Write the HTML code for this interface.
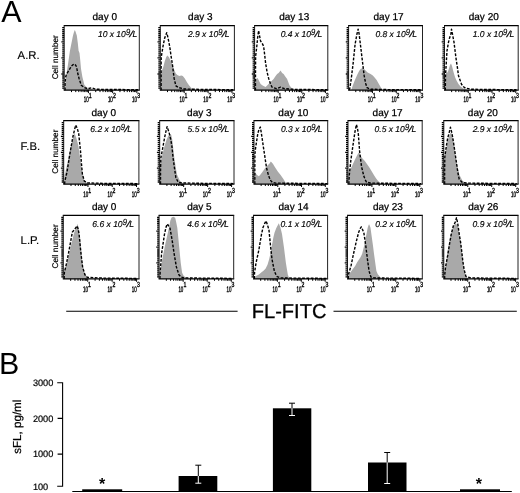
<!DOCTYPE html>
<html lang="en"><head><meta charset="utf-8"><title>FL-FITC figure</title>
<style>html,body{margin:0;padding:0;background:#fff}body{width:520px;height:493px;overflow:hidden}svg{display:block}text{font-family:"Liberation Sans",sans-serif;fill:#000;text-rendering:geometricPrecision}.day{font-size:10px;text-anchor:middle;stroke:#000;stroke-width:0.25px}.row{font-size:11.3px;stroke:#000;stroke-width:0.15px}.cn{font-size:8.2px;text-anchor:middle;stroke:#000;stroke-width:0.2px}.ann{font-size:8.5px;font-style:italic;text-anchor:end;stroke:#000;stroke-width:0.15px}.sup{font-size:9px;font-style:italic;stroke:#000;stroke-width:0.15px}.pl{font-size:8.6px;font-style:italic;text-anchor:end;stroke:#000;stroke-width:0.15px}.tk{font-size:8px;stroke:#000;stroke-width:0.4px}.yl{font-size:9.2px;text-anchor:start;stroke:#000;stroke-width:0.2px}</style></head><body>
<svg width="520" height="493" viewBox="0 0 520 493">
<rect width="520" height="493" fill="#fff"/>
<text x="1.3" y="22.4" style="font-size:30.4px">A</text>
<text x="-1.1" y="373.7" style="font-size:30.4px">B</text>
<text class="row" x="17.6" y="58.8">A.R.</text>
<text class="cn" transform="translate(58.2 57.3) rotate(-90)">Cell number</text>
<path d="M65 90.1 L65 90.1 L65.5 82.1 L66.1 77.1 L67.3 69.1 L68.5 60.7 L69.9 51.1 L71.5 43.1 L73 35.6 L74 32.1 L74.8 30.1 L75.5 31.6 L76.8 35.6 L77.8 43.1 L78.6 50.8 L79.5 53.1 L80.3 60.7 L81 68.8 L82.4 76.9 L84.4 85.1 L87.6 88.3 L93.2 89.6 L93.2 90.1 Z" fill="#a9a9a9"/>
<path d="M65 90.2 L65.1 82.2 L65.6 77.2 L66.5 74.2 L69.8 68.9 L71.4 66.1 L73 64.7 L74.5 64 L75.7 65.2 L76.7 67.3 L77.5 72.2 L79.1 78.7 L81.3 85.2 L84.4 87.6 L87.7 88.7 L91.7 87.7 L95.7 89.2 L104.2 89.4 L138.2 89.7" fill="none" stroke="#000" stroke-width="1.4" stroke-dasharray="2.8 1.5" stroke-linejoin="round"/>
<path d="M63.7 25.7H139.8M63.7 90.1H139.8" fill="none" stroke="#000" stroke-width="1.25"/>
<path d="M64.2 25.7V90.1M139.3 25.7V90.1" fill="none" stroke="#222" stroke-width="1"/>
<path d="M64.2 88.09h-2.0 M64.2 86.07h-2.0 M64.2 84.06h-2.0 M64.2 82.05h-2.0 M64.2 80.04h-2.0 M64.2 78.02h-2.0 M64.2 76.01h-2.0 M64.2 74h-2.8 M64.2 71.99h-2.0 M64.2 69.97h-2.0 M64.2 67.96h-2.0 M64.2 65.95h-2.0 M64.2 63.94h-2.0 M64.2 61.92h-2.0 M64.2 59.91h-2.0 M64.2 57.9h-2.8 M64.2 55.89h-2.0 M64.2 53.88h-2.0 M64.2 51.86h-2.0 M64.2 49.85h-2.0 M64.2 47.84h-2.0 M64.2 45.83h-2.0 M64.2 43.81h-2.0 M64.2 41.8h-2.8 M64.2 39.79h-2.0 M64.2 37.77h-2.0 M64.2 35.76h-2.0 M64.2 33.75h-2.0 M64.2 31.74h-2.0 M64.2 29.73h-2.0 M64.2 27.71h-2.0" stroke="#000" stroke-width="1.3" fill="none"/>
<path d="M71.49 90.1v2.0 M75.76 90.1v2.0 M78.79 90.1v2.0 M81.14 90.1v2.0 M83.06 90.1v2.0 M84.68 90.1v2.0 M86.08 90.1v2.0 M87.32 90.1v2.0 M88.43 90.1v3.0 M95.73 90.1v2.0 M100 90.1v2.0 M103.02 90.1v2.0 M105.37 90.1v2.0 M107.29 90.1v2.0 M108.91 90.1v2.0 M110.32 90.1v2.0 M111.56 90.1v2.0 M112.67 90.1v3.0 M119.96 90.1v2.0 M124.23 90.1v2.0 M127.26 90.1v2.0 M129.61 90.1v2.0 M131.52 90.1v2.0 M133.15 90.1v2.0 M134.55 90.1v2.0 M135.79 90.1v2.0 M136.9 90.1v3.0" stroke="#000" stroke-width="1.0" fill="none"/>
<text class="tk" transform="translate(88.63 102) scale(0.56 1)" style="text-anchor:end">10</text>
<text class="tk" transform="translate(88.73 97.8) scale(0.7 1)" style="text-anchor:start;font-size:7.4px">1</text>
<text class="tk" transform="translate(112.87 102) scale(0.56 1)" style="text-anchor:end">10</text>
<text class="tk" transform="translate(112.97 97.8) scale(0.7 1)" style="text-anchor:start;font-size:7.4px">2</text>
<text class="tk" transform="translate(137.1 102) scale(0.56 1)" style="text-anchor:end">10</text>
<text class="tk" transform="translate(137.2 97.8) scale(0.7 1)" style="text-anchor:start;font-size:7.4px">3</text>
<text class="day" x="104.75" y="19.8">day 0</text>
<text class="ann" x="125.8" y="37">10 x 10</text>
<text class="sup" transform="translate(125.9 35.3) scale(0.85 1)">9</text>
<text class="sup" transform="translate(129.6 37.3) scale(1.35 1)">/</text>
<text class="pl" x="137.2" y="37">L</text>
<path d="M160.6 90.1 L160.6 90.1 L160.9 73.1 L161.8 71.1 L163.3 67.1 L164.8 61.1 L166.3 57.1 L167.3 55.5 L168.8 57.1 L170.3 60.1 L172.3 64.1 L174.3 70.1 L175.8 73.6 L177.3 75.1 L179.3 75.9 L181.3 75.5 L182.8 76.1 L184.8 78.6 L186.8 82.1 L188.8 85.1 L191.3 88.1 L194.3 89.8 L194.3 90.1 Z" fill="#a9a9a9"/>
<path d="M161.1 90.2 L161.1 70.2 L161.2 57.3 L162.9 46.9 L164.6 38.3 L165.9 34.7 L166.7 32.7 L167.4 35.2 L168.1 38.3 L169.8 46.9 L171 55.6 L172.4 64.2 L174.1 78.2 L175.9 85.9 L178.5 87.6 L184.3 89 L200.3 89.4 L233.3 89.7" fill="none" stroke="#000" stroke-width="1.4" stroke-dasharray="2.8 1.5" stroke-linejoin="round"/>
<path d="M159.8 25.7H234.9M159.8 90.1H234.9" fill="none" stroke="#000" stroke-width="1.25"/>
<path d="M160.3 25.7V90.1M234.4 25.7V90.1" fill="none" stroke="#222" stroke-width="1"/>
<path d="M160.3 88.09h-2.0 M160.3 86.07h-2.0 M160.3 84.06h-2.0 M160.3 82.05h-2.0 M160.3 80.04h-2.0 M160.3 78.02h-2.0 M160.3 76.01h-2.0 M160.3 74h-2.8 M160.3 71.99h-2.0 M160.3 69.97h-2.0 M160.3 67.96h-2.0 M160.3 65.95h-2.0 M160.3 63.94h-2.0 M160.3 61.92h-2.0 M160.3 59.91h-2.0 M160.3 57.9h-2.8 M160.3 55.89h-2.0 M160.3 53.88h-2.0 M160.3 51.86h-2.0 M160.3 49.85h-2.0 M160.3 47.84h-2.0 M160.3 45.83h-2.0 M160.3 43.81h-2.0 M160.3 41.8h-2.8 M160.3 39.79h-2.0 M160.3 37.77h-2.0 M160.3 35.76h-2.0 M160.3 33.75h-2.0 M160.3 31.74h-2.0 M160.3 29.73h-2.0 M160.3 27.71h-2.0" stroke="#000" stroke-width="1.3" fill="none"/>
<path d="M167.49 90.1v2.0 M171.7 90.1v2.0 M174.69 90.1v2.0 M177.01 90.1v2.0 M178.9 90.1v2.0 M180.5 90.1v2.0 M181.88 90.1v2.0 M183.11 90.1v2.0 M184.2 90.1v3.0 M191.39 90.1v2.0 M195.6 90.1v2.0 M198.59 90.1v2.0 M200.91 90.1v2.0 M202.8 90.1v2.0 M204.4 90.1v2.0 M205.78 90.1v2.0 M207.01 90.1v2.0 M208.1 90.1v3.0 M215.29 90.1v2.0 M219.5 90.1v2.0 M222.49 90.1v2.0 M224.81 90.1v2.0 M226.7 90.1v2.0 M228.3 90.1v2.0 M229.68 90.1v2.0 M230.91 90.1v2.0 M232 90.1v3.0" stroke="#000" stroke-width="1.0" fill="none"/>
<text class="tk" transform="translate(184.4 102) scale(0.56 1)" style="text-anchor:end">10</text>
<text class="tk" transform="translate(184.5 97.8) scale(0.7 1)" style="text-anchor:start;font-size:7.4px">1</text>
<text class="tk" transform="translate(208.3 102) scale(0.56 1)" style="text-anchor:end">10</text>
<text class="tk" transform="translate(208.4 97.8) scale(0.7 1)" style="text-anchor:start;font-size:7.4px">2</text>
<text class="tk" transform="translate(232.2 102) scale(0.56 1)" style="text-anchor:end">10</text>
<text class="tk" transform="translate(232.3 97.8) scale(0.7 1)" style="text-anchor:start;font-size:7.4px">3</text>
<text class="day" x="200.35" y="19.8">day 3</text>
<text class="ann" x="218.2" y="37">2.9 x 10</text>
<text class="sup" transform="translate(218.3 35.3) scale(0.85 1)">9</text>
<text class="sup" transform="translate(222 37.3) scale(1.35 1)">/</text>
<text class="pl" x="229.6" y="37">L</text>
<path d="M254.6 90.1 L254.6 82.1 L256.1 79.1 L257.6 78.1 L259.1 81.1 L260.6 84.1 L262.6 85.6 L265.6 87.1 L267.6 85.1 L269.6 83.1 L271.6 81.1 L273.6 79.1 L275.6 76.1 L277.1 74.1 L278.6 73.1 L280.6 70.6 L282.1 73.1 L283.6 74.1 L285.6 77.1 L287.1 79.1 L288.6 83.1 L289.6 85.6 L291.6 88.1 L293.6 89.4 L293.6 90.1 Z" fill="#a9a9a9"/>
<path d="M255.4 90.2 L255.6 56.2 L256.6 48.2 L257.6 38.2 L258.6 30.7 L259.6 36.2 L260.6 41.2 L262.1 43.2 L263.6 46.2 L264.6 54.2 L265.6 63.2 L267.1 72.2 L268.6 78.2 L270.6 84.2 L272.1 87.2 L276.6 88.7 L280.6 87.2 L284.6 88.7 L294.6 89.4 L328.6 89.7" fill="none" stroke="#000" stroke-width="1.4" stroke-dasharray="2.8 1.5" stroke-linejoin="round"/>
<path d="M254.1 25.7H328.3M254.1 90.1H328.3" fill="none" stroke="#000" stroke-width="1.25"/>
<path d="M254.6 25.7V90.1M327.8 25.7V90.1" fill="none" stroke="#222" stroke-width="1"/>
<path d="M254.6 88.09h-2.0 M254.6 86.07h-2.0 M254.6 84.06h-2.0 M254.6 82.05h-2.0 M254.6 80.04h-2.0 M254.6 78.02h-2.0 M254.6 76.01h-2.0 M254.6 74h-2.8 M254.6 71.99h-2.0 M254.6 69.97h-2.0 M254.6 67.96h-2.0 M254.6 65.95h-2.0 M254.6 63.94h-2.0 M254.6 61.92h-2.0 M254.6 59.91h-2.0 M254.6 57.9h-2.8 M254.6 55.89h-2.0 M254.6 53.88h-2.0 M254.6 51.86h-2.0 M254.6 49.85h-2.0 M254.6 47.84h-2.0 M254.6 45.83h-2.0 M254.6 43.81h-2.0 M254.6 41.8h-2.8 M254.6 39.79h-2.0 M254.6 37.77h-2.0 M254.6 35.76h-2.0 M254.6 33.75h-2.0 M254.6 31.74h-2.0 M254.6 29.73h-2.0 M254.6 27.71h-2.0" stroke="#000" stroke-width="1.3" fill="none"/>
<path d="M261.7 90.1v2.0 M265.86 90.1v2.0 M268.81 90.1v2.0 M271.1 90.1v2.0 M272.96 90.1v2.0 M274.54 90.1v2.0 M275.91 90.1v2.0 M277.12 90.1v2.0 M278.2 90.1v3.0 M285.3 90.1v2.0 M289.46 90.1v2.0 M292.41 90.1v2.0 M294.7 90.1v2.0 M296.56 90.1v2.0 M298.14 90.1v2.0 M299.51 90.1v2.0 M300.72 90.1v2.0 M301.8 90.1v3.0 M308.9 90.1v2.0 M313.06 90.1v2.0 M316.01 90.1v2.0 M318.3 90.1v2.0 M320.16 90.1v2.0 M321.74 90.1v2.0 M323.11 90.1v2.0 M324.32 90.1v2.0 M325.4 90.1v3.0" stroke="#000" stroke-width="1.0" fill="none"/>
<text class="tk" transform="translate(278.4 102) scale(0.56 1)" style="text-anchor:end">10</text>
<text class="tk" transform="translate(278.5 97.8) scale(0.7 1)" style="text-anchor:start;font-size:7.4px">1</text>
<text class="tk" transform="translate(302 102) scale(0.56 1)" style="text-anchor:end">10</text>
<text class="tk" transform="translate(302.1 97.8) scale(0.7 1)" style="text-anchor:start;font-size:7.4px">2</text>
<text class="tk" transform="translate(325.6 102) scale(0.56 1)" style="text-anchor:end">10</text>
<text class="tk" transform="translate(325.7 97.8) scale(0.7 1)" style="text-anchor:start;font-size:7.4px">3</text>
<text class="day" x="294.2" y="19.8">day 13</text>
<text class="ann" x="310.9" y="37">0.4 x 10</text>
<text class="sup" transform="translate(311 35.3) scale(0.85 1)">9</text>
<text class="sup" transform="translate(314.7 37.3) scale(1.35 1)">/</text>
<text class="pl" x="322.3" y="37">L</text>
<path d="M351.3 90.1 L351.3 90.1 L352.6 86.1 L354.1 82.1 L355.8 78.1 L357.6 74.1 L359.1 71.1 L360.6 69.1 L362.1 68.3 L363.6 68.5 L365.6 70.6 L367.6 72.6 L370.6 74.1 L372.8 75.4 L374.6 77.6 L376.6 80.1 L378.6 83.6 L380.6 87.1 L382.1 89.8 L382.1 90.1 Z" fill="#a9a9a9"/>
<path d="M349.4 90.2 L350 87.2 L351.2 79.2 L353.1 63.6 L355.1 44.2 L356.8 34.7 L358.1 29.2 L359 33.2 L359.9 40.2 L361.1 50.2 L362.3 60.2 L364.1 75.2 L365.6 83.2 L367 87.7 L370.6 89.2 L388.6 89.6 L422.6 89.7" fill="none" stroke="#000" stroke-width="1.4" stroke-dasharray="2.8 1.5" stroke-linejoin="round"/>
<path d="M348.1 25.7H423M348.1 90.1H423" fill="none" stroke="#000" stroke-width="1.25"/>
<path d="M348.6 25.7V90.1M422.5 25.7V90.1" fill="none" stroke="#222" stroke-width="1"/>
<path d="M348.6 88.09h-2.0 M348.6 86.07h-2.0 M348.6 84.06h-2.0 M348.6 82.05h-2.0 M348.6 80.04h-2.0 M348.6 78.02h-2.0 M348.6 76.01h-2.0 M348.6 74h-2.8 M348.6 71.99h-2.0 M348.6 69.97h-2.0 M348.6 67.96h-2.0 M348.6 65.95h-2.0 M348.6 63.94h-2.0 M348.6 61.92h-2.0 M348.6 59.91h-2.0 M348.6 57.9h-2.8 M348.6 55.89h-2.0 M348.6 53.88h-2.0 M348.6 51.86h-2.0 M348.6 49.85h-2.0 M348.6 47.84h-2.0 M348.6 45.83h-2.0 M348.6 43.81h-2.0 M348.6 41.8h-2.8 M348.6 39.79h-2.0 M348.6 37.77h-2.0 M348.6 35.76h-2.0 M348.6 33.75h-2.0 M348.6 31.74h-2.0 M348.6 29.73h-2.0 M348.6 27.71h-2.0" stroke="#000" stroke-width="1.3" fill="none"/>
<path d="M355.77 90.1v2.0 M359.97 90.1v2.0 M362.95 90.1v2.0 M365.26 90.1v2.0 M367.15 90.1v2.0 M368.74 90.1v2.0 M370.12 90.1v2.0 M371.34 90.1v2.0 M372.43 90.1v3.0 M379.61 90.1v2.0 M383.8 90.1v2.0 M386.78 90.1v2.0 M389.09 90.1v2.0 M390.98 90.1v2.0 M392.57 90.1v2.0 M393.96 90.1v2.0 M395.18 90.1v2.0 M396.27 90.1v3.0 M403.44 90.1v2.0 M407.64 90.1v2.0 M410.62 90.1v2.0 M412.93 90.1v2.0 M414.81 90.1v2.0 M416.41 90.1v2.0 M417.79 90.1v2.0 M419.01 90.1v2.0 M420.1 90.1v3.0" stroke="#000" stroke-width="1.0" fill="none"/>
<text class="tk" transform="translate(372.63 102) scale(0.56 1)" style="text-anchor:end">10</text>
<text class="tk" transform="translate(372.73 97.8) scale(0.7 1)" style="text-anchor:start;font-size:7.4px">1</text>
<text class="tk" transform="translate(396.47 102) scale(0.56 1)" style="text-anchor:end">10</text>
<text class="tk" transform="translate(396.57 97.8) scale(0.7 1)" style="text-anchor:start;font-size:7.4px">2</text>
<text class="tk" transform="translate(420.3 102) scale(0.56 1)" style="text-anchor:end">10</text>
<text class="tk" transform="translate(420.4 97.8) scale(0.7 1)" style="text-anchor:start;font-size:7.4px">3</text>
<text class="day" x="388.55" y="19.8">day 17</text>
<text class="ann" x="405.7" y="37">0.8 x 10</text>
<text class="sup" transform="translate(405.8 35.3) scale(0.85 1)">9</text>
<text class="sup" transform="translate(409.5 37.3) scale(1.35 1)">/</text>
<text class="pl" x="417.1" y="37">L</text>
<path d="M444.9 90.1 L444.9 90.1 L445.3 76.1 L446 73.1 L447.5 72.6 L448.5 70.1 L450 65.1 L451 63.6 L452 66.1 L453.5 72.1 L455 77.1 L456.5 80.6 L458.5 84.1 L460.5 86.6 L463.5 88.6 L467.5 89.8 L467.5 90.1 Z" fill="#a9a9a9"/>
<path d="M445.3 90.2 L445.5 75.7 L447 50.7 L448.5 42.2 L449.5 38.2 L451 33.2 L451.5 29.2 L452.3 33.2 L454 42.2 L456 58.2 L457.5 68.2 L458.5 75.7 L461.5 84.2 L463.5 86.7 L465.5 88.2 L471.5 89.2 L484.5 89.5 L516.5 89.7" fill="none" stroke="#000" stroke-width="1.4" stroke-dasharray="2.8 1.5" stroke-linejoin="round"/>
<path d="M444 25.7H518.7M444 90.1H518.7" fill="none" stroke="#000" stroke-width="1.25"/>
<path d="M444.5 25.7V90.1M518.2 25.7V90.1" fill="none" stroke="#222" stroke-width="1"/>
<path d="M444.5 88.09h-2.0 M444.5 86.07h-2.0 M444.5 84.06h-2.0 M444.5 82.05h-2.0 M444.5 80.04h-2.0 M444.5 78.02h-2.0 M444.5 76.01h-2.0 M444.5 74h-2.8 M444.5 71.99h-2.0 M444.5 69.97h-2.0 M444.5 67.96h-2.0 M444.5 65.95h-2.0 M444.5 63.94h-2.0 M444.5 61.92h-2.0 M444.5 59.91h-2.0 M444.5 57.9h-2.8 M444.5 55.89h-2.0 M444.5 53.88h-2.0 M444.5 51.86h-2.0 M444.5 49.85h-2.0 M444.5 47.84h-2.0 M444.5 45.83h-2.0 M444.5 43.81h-2.0 M444.5 41.8h-2.8 M444.5 39.79h-2.0 M444.5 37.77h-2.0 M444.5 35.76h-2.0 M444.5 33.75h-2.0 M444.5 31.74h-2.0 M444.5 29.73h-2.0 M444.5 27.71h-2.0" stroke="#000" stroke-width="1.3" fill="none"/>
<path d="M451.65 90.1v2.0 M455.84 90.1v2.0 M458.81 90.1v2.0 M461.11 90.1v2.0 M462.99 90.1v2.0 M464.59 90.1v2.0 M465.96 90.1v2.0 M467.18 90.1v2.0 M468.27 90.1v3.0 M475.42 90.1v2.0 M479.61 90.1v2.0 M482.58 90.1v2.0 M484.88 90.1v2.0 M486.76 90.1v2.0 M488.35 90.1v2.0 M489.73 90.1v2.0 M490.95 90.1v2.0 M492.03 90.1v3.0 M499.19 90.1v2.0 M503.37 90.1v2.0 M506.34 90.1v2.0 M508.65 90.1v2.0 M510.53 90.1v2.0 M512.12 90.1v2.0 M513.5 90.1v2.0 M514.71 90.1v2.0 M515.8 90.1v3.0" stroke="#000" stroke-width="1.0" fill="none"/>
<text class="tk" transform="translate(468.47 102) scale(0.56 1)" style="text-anchor:end">10</text>
<text class="tk" transform="translate(468.57 97.8) scale(0.7 1)" style="text-anchor:start;font-size:7.4px">1</text>
<text class="tk" transform="translate(492.23 102) scale(0.56 1)" style="text-anchor:end">10</text>
<text class="tk" transform="translate(492.33 97.8) scale(0.7 1)" style="text-anchor:start;font-size:7.4px">2</text>
<text class="tk" transform="translate(516 102) scale(0.56 1)" style="text-anchor:end">10</text>
<text class="tk" transform="translate(516.1 97.8) scale(0.7 1)" style="text-anchor:start;font-size:7.4px">3</text>
<text class="day" x="483.75" y="19.8">day 20</text>
<text class="ann" x="503" y="37">1.0 x 10</text>
<text class="sup" transform="translate(503.1 35.3) scale(0.85 1)">9</text>
<text class="sup" transform="translate(506.8 37.3) scale(1.35 1)">/</text>
<text class="pl" x="514.4" y="37">L</text>
<text class="row" x="20.6" y="149.9">F.B.</text>
<text class="cn" transform="translate(58.2 151.7) rotate(-90)">Cell number</text>
<path d="M64.3 184 L64.3 184 L64.6 175.5 L65.7 171 L67.9 161 L69.4 153 L71 146 L73 138 L74.6 133.2 L76.2 137.5 L78.2 145 L79.9 156 L81.3 166 L83.3 178 L84.7 181 L86.2 182.5 L89.7 183.7 L89.7 184 Z" fill="#a9a9a9"/>
<path d="M64.5 184.1 L64.9 181.1 L67 172.1 L69.7 155.1 L72.7 137.5 L74.7 129.1 L75.7 125.1 L77.2 128.1 L78.7 133.6 L80.5 151.1 L81.5 164.1 L82.4 174.1 L84.3 181.1 L87.7 182.9 L103.7 183.4 L137.7 183.6" fill="none" stroke="#000" stroke-width="1.4" stroke-dasharray="2.8 1.5" stroke-linejoin="round"/>
<path d="M63.2 120.6H139.4M63.2 184H139.4" fill="none" stroke="#000" stroke-width="1.25"/>
<path d="M63.7 120.6V184M138.9 120.6V184" fill="none" stroke="#222" stroke-width="1"/>
<path d="M63.7 182.02h-2.0 M63.7 180.04h-2.0 M63.7 178.06h-2.0 M63.7 176.07h-2.0 M63.7 174.09h-2.0 M63.7 172.11h-2.0 M63.7 170.13h-2.0 M63.7 168.15h-2.8 M63.7 166.17h-2.0 M63.7 164.19h-2.0 M63.7 162.21h-2.0 M63.7 160.22h-2.0 M63.7 158.24h-2.0 M63.7 156.26h-2.0 M63.7 154.28h-2.0 M63.7 152.3h-2.8 M63.7 150.32h-2.0 M63.7 148.34h-2.0 M63.7 146.36h-2.0 M63.7 144.38h-2.0 M63.7 142.39h-2.0 M63.7 140.41h-2.0 M63.7 138.43h-2.0 M63.7 136.45h-2.8 M63.7 134.47h-2.0 M63.7 132.49h-2.0 M63.7 130.51h-2.0 M63.7 128.52h-2.0 M63.7 126.54h-2.0 M63.7 124.56h-2.0 M63.7 122.58h-2.0" stroke="#000" stroke-width="1.3" fill="none"/>
<path d="M71 184v2.0 M75.28 184v2.0 M78.31 184v2.0 M80.66 184v2.0 M82.58 184v2.0 M84.21 184v2.0 M85.61 184v2.0 M86.86 184v2.0 M87.97 184v3.0 M95.27 184v2.0 M99.54 184v2.0 M102.58 184v2.0 M104.93 184v2.0 M106.85 184v2.0 M108.47 184v2.0 M109.88 184v2.0 M111.12 184v2.0 M112.23 184v3.0 M119.54 184v2.0 M123.81 184v2.0 M126.84 184v2.0 M129.2 184v2.0 M131.12 184v2.0 M132.74 184v2.0 M134.15 184v2.0 M135.39 184v2.0 M136.5 184v3.0" stroke="#000" stroke-width="1.0" fill="none"/>
<text class="tk" transform="translate(88.17 196.7) scale(0.56 1)" style="text-anchor:end">10</text>
<text class="tk" transform="translate(88.27 192.5) scale(0.7 1)" style="text-anchor:start;font-size:7.4px">1</text>
<text class="tk" transform="translate(112.43 196.7) scale(0.56 1)" style="text-anchor:end">10</text>
<text class="tk" transform="translate(112.53 192.5) scale(0.7 1)" style="text-anchor:start;font-size:7.4px">2</text>
<text class="tk" transform="translate(136.7 196.7) scale(0.56 1)" style="text-anchor:end">10</text>
<text class="tk" transform="translate(136.8 192.5) scale(0.7 1)" style="text-anchor:start;font-size:7.4px">3</text>
<text class="day" x="103.8" y="115.5">day 0</text>
<text class="ann" x="120.6" y="131.9">6.2 x 10</text>
<text class="sup" transform="translate(120.7 130.2) scale(0.85 1)">9</text>
<text class="sup" transform="translate(124.4 132.2) scale(1.35 1)">/</text>
<text class="pl" x="132" y="131.9">L</text>
<path d="M159.9 184 L159.9 184 L160.1 165.1 L161.1 161 L162.5 154 L164.3 147 L166.4 140 L168 136.5 L169.2 134.4 L170.2 134 L171.3 135 L172.3 140 L173.1 147 L173.8 154 L174.8 161 L175.8 168 L177.2 175 L179.7 180.5 L183.2 183.6 L183.2 184 Z" fill="#a9a9a9"/>
<path d="M160.5 184.1 L160.5 172.1 L160.8 158.1 L162.9 147.1 L164.7 137.1 L166 131.1 L167.1 126.6 L168.1 129.6 L169.2 133.1 L170.9 140.1 L172 147.1 L173.1 158.1 L174.5 168.1 L175.9 177.8 L178.3 182.3 L181.7 182.9 L199.7 183.3 L233.7 183.6" fill="none" stroke="#000" stroke-width="1.4" stroke-dasharray="2.8 1.5" stroke-linejoin="round"/>
<path d="M159.2 120.6H234.5M159.2 184H234.5" fill="none" stroke="#000" stroke-width="1.25"/>
<path d="M159.7 120.6V184M234 120.6V184" fill="none" stroke="#222" stroke-width="1"/>
<path d="M159.7 182.02h-2.0 M159.7 180.04h-2.0 M159.7 178.06h-2.0 M159.7 176.07h-2.0 M159.7 174.09h-2.0 M159.7 172.11h-2.0 M159.7 170.13h-2.0 M159.7 168.15h-2.8 M159.7 166.17h-2.0 M159.7 164.19h-2.0 M159.7 162.21h-2.0 M159.7 160.22h-2.0 M159.7 158.24h-2.0 M159.7 156.26h-2.0 M159.7 154.28h-2.0 M159.7 152.3h-2.8 M159.7 150.32h-2.0 M159.7 148.34h-2.0 M159.7 146.36h-2.0 M159.7 144.38h-2.0 M159.7 142.39h-2.0 M159.7 140.41h-2.0 M159.7 138.43h-2.0 M159.7 136.45h-2.8 M159.7 134.47h-2.0 M159.7 132.49h-2.0 M159.7 130.51h-2.0 M159.7 128.52h-2.0 M159.7 126.54h-2.0 M159.7 124.56h-2.0 M159.7 122.58h-2.0" stroke="#000" stroke-width="1.3" fill="none"/>
<path d="M166.91 184v2.0 M171.14 184v2.0 M174.13 184v2.0 M176.45 184v2.0 M178.35 184v2.0 M179.95 184v2.0 M181.34 184v2.0 M182.57 184v2.0 M183.67 184v3.0 M190.88 184v2.0 M195.1 184v2.0 M198.1 184v2.0 M200.42 184v2.0 M202.32 184v2.0 M203.92 184v2.0 M205.31 184v2.0 M206.54 184v2.0 M207.63 184v3.0 M214.85 184v2.0 M219.07 184v2.0 M222.06 184v2.0 M224.39 184v2.0 M226.28 184v2.0 M227.89 184v2.0 M229.28 184v2.0 M230.5 184v2.0 M231.6 184v3.0" stroke="#000" stroke-width="1.0" fill="none"/>
<text class="tk" transform="translate(183.87 196.7) scale(0.56 1)" style="text-anchor:end">10</text>
<text class="tk" transform="translate(183.97 192.5) scale(0.7 1)" style="text-anchor:start;font-size:7.4px">1</text>
<text class="tk" transform="translate(207.83 196.7) scale(0.56 1)" style="text-anchor:end">10</text>
<text class="tk" transform="translate(207.93 192.5) scale(0.7 1)" style="text-anchor:start;font-size:7.4px">2</text>
<text class="tk" transform="translate(231.8 196.7) scale(0.56 1)" style="text-anchor:end">10</text>
<text class="tk" transform="translate(231.9 192.5) scale(0.7 1)" style="text-anchor:start;font-size:7.4px">3</text>
<text class="day" x="199.35" y="115.5">day 3</text>
<text class="ann" x="217.8" y="131.9">5.5 x 10</text>
<text class="sup" transform="translate(217.9 130.2) scale(0.85 1)">9</text>
<text class="sup" transform="translate(221.6 132.2) scale(1.35 1)">/</text>
<text class="pl" x="229.2" y="131.9">L</text>
<path d="M254.2 184 L254.2 184 L254.3 172 L255.4 172.8 L257 175 L258.9 176.3 L260.5 174.5 L262.4 172 L265.2 168 L268 165 L269.5 163.5 L270.8 161.6 L271.8 162.5 L272.9 163.7 L275 167.2 L277.8 171.4 L280.6 174.9 L283.4 179.1 L285.5 182.6 L287.6 183.8 L287.6 184 Z" fill="#a9a9a9"/>
<path d="M254.8 184.1 L254.8 169.1 L254.9 154.1 L255.7 147.1 L256.8 140.1 L257.9 133.1 L259.2 129.1 L260.3 127.1 L261.2 132.1 L262.4 140.1 L263.4 147.1 L264.5 154.1 L265.5 161.1 L266.6 168.1 L268 173.6 L269.4 177.8 L270.8 180.6 L272.2 182.3 L276 183.1 L294 183.3 L328 183.6" fill="none" stroke="#000" stroke-width="1.4" stroke-dasharray="2.8 1.5" stroke-linejoin="round"/>
<path d="M253.5 120.6H328.2M253.5 184H328.2" fill="none" stroke="#000" stroke-width="1.25"/>
<path d="M254 120.6V184M327.7 120.6V184" fill="none" stroke="#222" stroke-width="1"/>
<path d="M254 182.02h-2.0 M254 180.04h-2.0 M254 178.06h-2.0 M254 176.07h-2.0 M254 174.09h-2.0 M254 172.11h-2.0 M254 170.13h-2.0 M254 168.15h-2.8 M254 166.17h-2.0 M254 164.19h-2.0 M254 162.21h-2.0 M254 160.22h-2.0 M254 158.24h-2.0 M254 156.26h-2.0 M254 154.28h-2.0 M254 152.3h-2.8 M254 150.32h-2.0 M254 148.34h-2.0 M254 146.36h-2.0 M254 144.38h-2.0 M254 142.39h-2.0 M254 140.41h-2.0 M254 138.43h-2.0 M254 136.45h-2.8 M254 134.47h-2.0 M254 132.49h-2.0 M254 130.51h-2.0 M254 128.52h-2.0 M254 126.54h-2.0 M254 124.56h-2.0 M254 122.58h-2.0" stroke="#000" stroke-width="1.3" fill="none"/>
<path d="M261.15 184v2.0 M265.34 184v2.0 M268.31 184v2.0 M270.61 184v2.0 M272.49 184v2.0 M274.09 184v2.0 M275.46 184v2.0 M276.68 184v2.0 M277.77 184v3.0 M284.92 184v2.0 M289.11 184v2.0 M292.08 184v2.0 M294.38 184v2.0 M296.26 184v2.0 M297.85 184v2.0 M299.23 184v2.0 M300.45 184v2.0 M301.53 184v3.0 M308.69 184v2.0 M312.87 184v2.0 M315.84 184v2.0 M318.15 184v2.0 M320.03 184v2.0 M321.62 184v2.0 M323 184v2.0 M324.21 184v2.0 M325.3 184v3.0" stroke="#000" stroke-width="1.0" fill="none"/>
<text class="tk" transform="translate(277.97 196.7) scale(0.56 1)" style="text-anchor:end">10</text>
<text class="tk" transform="translate(278.07 192.5) scale(0.7 1)" style="text-anchor:start;font-size:7.4px">1</text>
<text class="tk" transform="translate(301.73 196.7) scale(0.56 1)" style="text-anchor:end">10</text>
<text class="tk" transform="translate(301.83 192.5) scale(0.7 1)" style="text-anchor:start;font-size:7.4px">2</text>
<text class="tk" transform="translate(325.5 196.7) scale(0.56 1)" style="text-anchor:end">10</text>
<text class="tk" transform="translate(325.6 192.5) scale(0.7 1)" style="text-anchor:start;font-size:7.4px">3</text>
<text class="day" x="293.35" y="115.5">day 10</text>
<text class="ann" x="311.2" y="131.9">0.3 x 10</text>
<text class="sup" transform="translate(311.3 130.2) scale(0.85 1)">9</text>
<text class="sup" transform="translate(315 132.2) scale(1.35 1)">/</text>
<text class="pl" x="322.6" y="131.9">L</text>
<path d="M348.2 184 L348.2 184 L348.4 173 L349.5 170.5 L351.1 168 L354.3 161 L357.1 155.3 L358.8 152.5 L360.5 155.5 L362.5 158.5 L364.8 161 L367.3 164.5 L369.7 168 L371.8 171.5 L373.9 174.9 L375.8 178 L377.7 180.5 L380.9 183.7 L380.9 184 Z" fill="#a9a9a9"/>
<path d="M348.8 184.1 L349.2 176.1 L350.8 160.6 L353 145.1 L354.9 132.1 L356.4 124.6 L357.4 128.1 L358.3 133.6 L359.6 151.1 L361.5 166.4 L363.8 176.1 L365.4 180.1 L366.5 182.1 L371 183.1 L388 183.3 L421 183.6" fill="none" stroke="#000" stroke-width="1.4" stroke-dasharray="2.8 1.5" stroke-linejoin="round"/>
<path d="M347.5 120.6H422.7M347.5 184H422.7" fill="none" stroke="#000" stroke-width="1.25"/>
<path d="M348 120.6V184M422.2 120.6V184" fill="none" stroke="#222" stroke-width="1"/>
<path d="M348 182.02h-2.0 M348 180.04h-2.0 M348 178.06h-2.0 M348 176.07h-2.0 M348 174.09h-2.0 M348 172.11h-2.0 M348 170.13h-2.0 M348 168.15h-2.8 M348 166.17h-2.0 M348 164.19h-2.0 M348 162.21h-2.0 M348 160.22h-2.0 M348 158.24h-2.0 M348 156.26h-2.0 M348 154.28h-2.0 M348 152.3h-2.8 M348 150.32h-2.0 M348 148.34h-2.0 M348 146.36h-2.0 M348 144.38h-2.0 M348 142.39h-2.0 M348 140.41h-2.0 M348 138.43h-2.0 M348 136.45h-2.8 M348 134.47h-2.0 M348 132.49h-2.0 M348 130.51h-2.0 M348 128.52h-2.0 M348 126.54h-2.0 M348 124.56h-2.0 M348 122.58h-2.0" stroke="#000" stroke-width="1.3" fill="none"/>
<path d="M355.2 184v2.0 M359.42 184v2.0 M362.41 184v2.0 M364.73 184v2.0 M366.62 184v2.0 M368.23 184v2.0 M369.61 184v2.0 M370.84 184v2.0 M371.93 184v3.0 M379.14 184v2.0 M383.35 184v2.0 M386.34 184v2.0 M388.66 184v2.0 M390.56 184v2.0 M392.16 184v2.0 M393.55 184v2.0 M394.77 184v2.0 M395.87 184v3.0 M403.07 184v2.0 M407.29 184v2.0 M410.28 184v2.0 M412.6 184v2.0 M414.49 184v2.0 M416.09 184v2.0 M417.48 184v2.0 M418.7 184v2.0 M419.8 184v3.0" stroke="#000" stroke-width="1.0" fill="none"/>
<text class="tk" transform="translate(372.13 196.7) scale(0.56 1)" style="text-anchor:end">10</text>
<text class="tk" transform="translate(372.23 192.5) scale(0.7 1)" style="text-anchor:start;font-size:7.4px">1</text>
<text class="tk" transform="translate(396.07 196.7) scale(0.56 1)" style="text-anchor:end">10</text>
<text class="tk" transform="translate(396.17 192.5) scale(0.7 1)" style="text-anchor:start;font-size:7.4px">2</text>
<text class="tk" transform="translate(420 196.7) scale(0.56 1)" style="text-anchor:end">10</text>
<text class="tk" transform="translate(420.1 192.5) scale(0.7 1)" style="text-anchor:start;font-size:7.4px">3</text>
<text class="day" x="387.6" y="115.5">day 17</text>
<text class="ann" x="404.8" y="131.9">0.5 x 10</text>
<text class="sup" transform="translate(404.9 130.2) scale(0.85 1)">9</text>
<text class="sup" transform="translate(408.6 132.2) scale(1.35 1)">/</text>
<text class="pl" x="416.2" y="131.9">L</text>
<path d="M444 184 L444 184 L444.2 166 L444.4 161 L445.2 154 L446.6 147 L448 140 L449.7 134.4 L451.1 132.3 L452.1 135 L453.2 140 L454.1 147 L455.3 154 L456.4 161 L457.8 168 L459.5 175 L462.3 180.5 L464.8 182.5 L467.8 183.7 L467.8 184 Z" fill="#a9a9a9"/>
<path d="M444.6 184.1 L444.6 170.1 L444.8 157.1 L446.2 147.1 L447.6 138.6 L449.4 131.7 L450.4 127.3 L451.3 130.6 L452.2 134.5 L453.6 143.1 L455 152.6 L456.4 162.4 L457.8 172.2 L459.2 179.2 L462.3 182.5 L467.8 183.1 L483.8 183.3 L516.8 183.6" fill="none" stroke="#000" stroke-width="1.4" stroke-dasharray="2.8 1.5" stroke-linejoin="round"/>
<path d="M443.3 120.6H518.6M443.3 184H518.6" fill="none" stroke="#000" stroke-width="1.25"/>
<path d="M443.8 120.6V184M518.1 120.6V184" fill="none" stroke="#222" stroke-width="1"/>
<path d="M443.8 182.02h-2.0 M443.8 180.04h-2.0 M443.8 178.06h-2.0 M443.8 176.07h-2.0 M443.8 174.09h-2.0 M443.8 172.11h-2.0 M443.8 170.13h-2.0 M443.8 168.15h-2.8 M443.8 166.17h-2.0 M443.8 164.19h-2.0 M443.8 162.21h-2.0 M443.8 160.22h-2.0 M443.8 158.24h-2.0 M443.8 156.26h-2.0 M443.8 154.28h-2.0 M443.8 152.3h-2.8 M443.8 150.32h-2.0 M443.8 148.34h-2.0 M443.8 146.36h-2.0 M443.8 144.38h-2.0 M443.8 142.39h-2.0 M443.8 140.41h-2.0 M443.8 138.43h-2.0 M443.8 136.45h-2.8 M443.8 134.47h-2.0 M443.8 132.49h-2.0 M443.8 130.51h-2.0 M443.8 128.52h-2.0 M443.8 126.54h-2.0 M443.8 124.56h-2.0 M443.8 122.58h-2.0" stroke="#000" stroke-width="1.3" fill="none"/>
<path d="M451.01 184v2.0 M455.24 184v2.0 M458.23 184v2.0 M460.55 184v2.0 M462.45 184v2.0 M464.05 184v2.0 M465.44 184v2.0 M466.67 184v2.0 M467.77 184v3.0 M474.98 184v2.0 M479.2 184v2.0 M482.2 184v2.0 M484.52 184v2.0 M486.42 184v2.0 M488.02 184v2.0 M489.41 184v2.0 M490.64 184v2.0 M491.73 184v3.0 M498.95 184v2.0 M503.17 184v2.0 M506.16 184v2.0 M508.49 184v2.0 M510.38 184v2.0 M511.99 184v2.0 M513.38 184v2.0 M514.6 184v2.0 M515.7 184v3.0" stroke="#000" stroke-width="1.0" fill="none"/>
<text class="tk" transform="translate(467.97 196.7) scale(0.56 1)" style="text-anchor:end">10</text>
<text class="tk" transform="translate(468.07 192.5) scale(0.7 1)" style="text-anchor:start;font-size:7.4px">1</text>
<text class="tk" transform="translate(491.93 196.7) scale(0.56 1)" style="text-anchor:end">10</text>
<text class="tk" transform="translate(492.03 192.5) scale(0.7 1)" style="text-anchor:start;font-size:7.4px">2</text>
<text class="tk" transform="translate(515.9 196.7) scale(0.56 1)" style="text-anchor:end">10</text>
<text class="tk" transform="translate(516 192.5) scale(0.7 1)" style="text-anchor:start;font-size:7.4px">3</text>
<text class="day" x="482.85" y="115.5">day 20</text>
<text class="ann" x="502.9" y="131.9">2.9 x 10</text>
<text class="sup" transform="translate(503 130.2) scale(0.85 1)">9</text>
<text class="sup" transform="translate(506.7 132.2) scale(1.35 1)">/</text>
<text class="pl" x="514.3" y="131.9">L</text>
<text class="row" x="20.6" y="243.6">L.P.</text>
<text class="cn" transform="translate(58.2 246.45) rotate(-90)">Cell number</text>
<path d="M63.3 278.8 L63.3 272.8 L65.3 267.8 L67.5 261.1 L71.3 243.8 L74.3 232.2 L75.8 228.8 L77.6 223.8 L78.8 229.8 L80.1 237.8 L81.1 248.8 L82 259.2 L83.9 270.8 L85.3 274.3 L86.8 276.5 L89.3 278.4 L89.3 278.8 Z" fill="#a9a9a9"/>
<path d="M64.1 278.9 L64.3 272.9 L66.6 263.1 L69.5 247.9 L72.3 232.3 L75.3 228.4 L77.2 225.9 L78.1 228.9 L79.1 234.2 L80.6 249.9 L81.6 258.9 L82.6 266.9 L84.9 274.7 L87.3 277.4 L103.3 278.1 L137.3 278.4" fill="none" stroke="#000" stroke-width="1.4" stroke-dasharray="2.8 1.5" stroke-linejoin="round"/>
<path d="M62.8 215.3H139.5M62.8 278.8H139.5" fill="none" stroke="#000" stroke-width="1.25"/>
<path d="M63.3 215.3V278.8M139 215.3V278.8" fill="none" stroke="#222" stroke-width="1"/>
<path d="M63.3 276.82h-2.0 M63.3 274.83h-2.0 M63.3 272.85h-2.0 M63.3 270.86h-2.0 M63.3 268.88h-2.0 M63.3 266.89h-2.0 M63.3 264.91h-2.0 M63.3 262.93h-2.8 M63.3 260.94h-2.0 M63.3 258.96h-2.0 M63.3 256.97h-2.0 M63.3 254.99h-2.0 M63.3 253h-2.0 M63.3 251.02h-2.0 M63.3 249.03h-2.0 M63.3 247.05h-2.8 M63.3 245.07h-2.0 M63.3 243.08h-2.0 M63.3 241.1h-2.0 M63.3 239.11h-2.0 M63.3 237.13h-2.0 M63.3 235.14h-2.0 M63.3 233.16h-2.0 M63.3 231.18h-2.8 M63.3 229.19h-2.0 M63.3 227.21h-2.0 M63.3 225.22h-2.0 M63.3 223.24h-2.0 M63.3 221.25h-2.0 M63.3 219.27h-2.0 M63.3 217.28h-2.0" stroke="#000" stroke-width="1.3" fill="none"/>
<path d="M70.66 278.8v2.0 M74.96 278.8v2.0 M78.01 278.8v2.0 M80.38 278.8v2.0 M82.31 278.8v2.0 M83.95 278.8v2.0 M85.37 278.8v2.0 M86.62 278.8v2.0 M87.73 278.8v3.0 M95.09 278.8v2.0 M99.39 278.8v2.0 M102.44 278.8v2.0 M104.81 278.8v2.0 M106.75 278.8v2.0 M108.38 278.8v2.0 M109.8 278.8v2.0 M111.05 278.8v2.0 M112.17 278.8v3.0 M119.52 278.8v2.0 M123.82 278.8v2.0 M126.88 278.8v2.0 M129.24 278.8v2.0 M131.18 278.8v2.0 M132.82 278.8v2.0 M134.23 278.8v2.0 M135.48 278.8v2.0 M136.6 278.8v3.0" stroke="#000" stroke-width="1.0" fill="none"/>
<text class="tk" transform="translate(87.93 291.5) scale(0.56 1)" style="text-anchor:end">10</text>
<text class="tk" transform="translate(88.03 287.3) scale(0.7 1)" style="text-anchor:start;font-size:7.4px">1</text>
<text class="tk" transform="translate(112.37 291.5) scale(0.56 1)" style="text-anchor:end">10</text>
<text class="tk" transform="translate(112.47 287.3) scale(0.7 1)" style="text-anchor:start;font-size:7.4px">2</text>
<text class="tk" transform="translate(136.8 291.5) scale(0.56 1)" style="text-anchor:end">10</text>
<text class="tk" transform="translate(136.9 287.3) scale(0.7 1)" style="text-anchor:start;font-size:7.4px">3</text>
<text class="day" x="104.15" y="209.9">day 0</text>
<text class="ann" x="122.6" y="226.6">6.6 x 10</text>
<text class="sup" transform="translate(122.7 224.9) scale(0.85 1)">9</text>
<text class="sup" transform="translate(126.4 226.9) scale(1.35 1)">/</text>
<text class="pl" x="134" y="226.6">L</text>
<path d="M159.1 278.8 L159.1 276.8 L159.6 274.5 L161.7 262.4 L165.1 245.1 L169 227.8 L170.3 220.8 L171.6 217.4 L173.4 216.8 L175.2 217.8 L176.1 221.8 L177.3 227.8 L179 245.1 L180.7 262.4 L182.1 272.8 L183.6 275.8 L185.1 277.1 L187.1 278.5 L187.1 278.8 Z" fill="#a9a9a9"/>
<path d="M159.9 278.9 L160.1 272.9 L161.6 253.5 L164.5 234.2 L166.1 226.9 L167.4 223.9 L168.6 225.9 L169.9 227.5 L172.1 239.9 L174.1 253.5 L176.4 266.9 L178.9 274.7 L181.1 277.1 L184.1 277.9 L199.1 278.1 L233.1 278.4" fill="none" stroke="#000" stroke-width="1.4" stroke-dasharray="2.8 1.5" stroke-linejoin="round"/>
<path d="M158.6 215.3H234.2M158.6 278.8H234.2" fill="none" stroke="#000" stroke-width="1.25"/>
<path d="M159.1 215.3V278.8M233.7 215.3V278.8" fill="none" stroke="#222" stroke-width="1"/>
<path d="M159.1 276.82h-2.0 M159.1 274.83h-2.0 M159.1 272.85h-2.0 M159.1 270.86h-2.0 M159.1 268.88h-2.0 M159.1 266.89h-2.0 M159.1 264.91h-2.0 M159.1 262.93h-2.8 M159.1 260.94h-2.0 M159.1 258.96h-2.0 M159.1 256.97h-2.0 M159.1 254.99h-2.0 M159.1 253h-2.0 M159.1 251.02h-2.0 M159.1 249.03h-2.0 M159.1 247.05h-2.8 M159.1 245.07h-2.0 M159.1 243.08h-2.0 M159.1 241.1h-2.0 M159.1 239.11h-2.0 M159.1 237.13h-2.0 M159.1 235.14h-2.0 M159.1 233.16h-2.0 M159.1 231.18h-2.8 M159.1 229.19h-2.0 M159.1 227.21h-2.0 M159.1 225.22h-2.0 M159.1 223.24h-2.0 M159.1 221.25h-2.0 M159.1 219.27h-2.0 M159.1 217.28h-2.0" stroke="#000" stroke-width="1.3" fill="none"/>
<path d="M166.34 278.8v2.0 M170.58 278.8v2.0 M173.59 278.8v2.0 M175.92 278.8v2.0 M177.83 278.8v2.0 M179.44 278.8v2.0 M180.83 278.8v2.0 M182.07 278.8v2.0 M183.17 278.8v3.0 M190.41 278.8v2.0 M194.65 278.8v2.0 M197.66 278.8v2.0 M199.99 278.8v2.0 M201.89 278.8v2.0 M203.51 278.8v2.0 M204.9 278.8v2.0 M206.13 278.8v2.0 M207.23 278.8v3.0 M214.48 278.8v2.0 M218.72 278.8v2.0 M221.72 278.8v2.0 M224.06 278.8v2.0 M225.96 278.8v2.0 M227.57 278.8v2.0 M228.97 278.8v2.0 M230.2 278.8v2.0 M231.3 278.8v3.0" stroke="#000" stroke-width="1.0" fill="none"/>
<text class="tk" transform="translate(183.37 291.5) scale(0.56 1)" style="text-anchor:end">10</text>
<text class="tk" transform="translate(183.47 287.3) scale(0.7 1)" style="text-anchor:start;font-size:7.4px">1</text>
<text class="tk" transform="translate(207.43 291.5) scale(0.56 1)" style="text-anchor:end">10</text>
<text class="tk" transform="translate(207.53 287.3) scale(0.7 1)" style="text-anchor:start;font-size:7.4px">2</text>
<text class="tk" transform="translate(231.5 291.5) scale(0.56 1)" style="text-anchor:end">10</text>
<text class="tk" transform="translate(231.6 287.3) scale(0.7 1)" style="text-anchor:start;font-size:7.4px">3</text>
<text class="day" x="199.4" y="209.9">day 5</text>
<text class="ann" x="217.5" y="226.6">4.6 x 10</text>
<text class="sup" transform="translate(217.6 224.9) scale(0.85 1)">9</text>
<text class="sup" transform="translate(221.3 226.9) scale(1.35 1)">/</text>
<text class="pl" x="228.9" y="226.6">L</text>
<path d="M253.5 278.8 L253.5 277.5 L256.5 275.8 L258.9 274.6 L261.5 272.3 L263.5 270.8 L265.5 268.8 L267.5 264.8 L269 259.8 L270.5 253.4 L273.3 237.8 L274.5 232.8 L276.2 228.3 L277.5 225.8 L278.8 223.3 L280.5 227.8 L282 234.1 L284 247.8 L285.9 263 L287 269.8 L287.8 274.6 L288.8 277.3 L289.7 278.6 L289.7 278.8 Z" fill="#a9a9a9"/>
<path d="M254.3 278.9 L254.5 272.9 L256 263.1 L258.9 249.9 L261.5 234.2 L263 227.5 L264.5 223.9 L266 220.9 L267.5 224.9 L269 230.3 L270.3 243.9 L272 259.3 L274.3 270.9 L276 274.9 L277.2 276.6 L280.5 277.9 L293.5 278.1 L326.5 278.4" fill="none" stroke="#000" stroke-width="1.4" stroke-dasharray="2.8 1.5" stroke-linejoin="round"/>
<path d="M253 215.3H328.1M253 278.8H328.1" fill="none" stroke="#000" stroke-width="1.25"/>
<path d="M253.5 215.3V278.8M327.6 215.3V278.8" fill="none" stroke="#222" stroke-width="1"/>
<path d="M253.5 276.82h-2.0 M253.5 274.83h-2.0 M253.5 272.85h-2.0 M253.5 270.86h-2.0 M253.5 268.88h-2.0 M253.5 266.89h-2.0 M253.5 264.91h-2.0 M253.5 262.93h-2.8 M253.5 260.94h-2.0 M253.5 258.96h-2.0 M253.5 256.97h-2.0 M253.5 254.99h-2.0 M253.5 253h-2.0 M253.5 251.02h-2.0 M253.5 249.03h-2.0 M253.5 247.05h-2.8 M253.5 245.07h-2.0 M253.5 243.08h-2.0 M253.5 241.1h-2.0 M253.5 239.11h-2.0 M253.5 237.13h-2.0 M253.5 235.14h-2.0 M253.5 233.16h-2.0 M253.5 231.18h-2.8 M253.5 229.19h-2.0 M253.5 227.21h-2.0 M253.5 225.22h-2.0 M253.5 223.24h-2.0 M253.5 221.25h-2.0 M253.5 219.27h-2.0 M253.5 217.28h-2.0" stroke="#000" stroke-width="1.3" fill="none"/>
<path d="M260.69 278.8v2.0 M264.9 278.8v2.0 M267.89 278.8v2.0 M270.21 278.8v2.0 M272.1 278.8v2.0 M273.7 278.8v2.0 M275.08 278.8v2.0 M276.31 278.8v2.0 M277.4 278.8v3.0 M284.59 278.8v2.0 M288.8 278.8v2.0 M291.79 278.8v2.0 M294.11 278.8v2.0 M296 278.8v2.0 M297.6 278.8v2.0 M298.98 278.8v2.0 M300.21 278.8v2.0 M301.3 278.8v3.0 M308.49 278.8v2.0 M312.7 278.8v2.0 M315.69 278.8v2.0 M318.01 278.8v2.0 M319.9 278.8v2.0 M321.5 278.8v2.0 M322.88 278.8v2.0 M324.11 278.8v2.0 M325.2 278.8v3.0" stroke="#000" stroke-width="1.0" fill="none"/>
<text class="tk" transform="translate(277.6 291.5) scale(0.56 1)" style="text-anchor:end">10</text>
<text class="tk" transform="translate(277.7 287.3) scale(0.7 1)" style="text-anchor:start;font-size:7.4px">1</text>
<text class="tk" transform="translate(301.5 291.5) scale(0.56 1)" style="text-anchor:end">10</text>
<text class="tk" transform="translate(301.6 287.3) scale(0.7 1)" style="text-anchor:start;font-size:7.4px">2</text>
<text class="tk" transform="translate(325.4 291.5) scale(0.56 1)" style="text-anchor:end">10</text>
<text class="tk" transform="translate(325.5 287.3) scale(0.7 1)" style="text-anchor:start;font-size:7.4px">3</text>
<text class="day" x="293.55" y="209.9">day 14</text>
<text class="ann" x="310.8" y="226.6">0.1 x 10</text>
<text class="sup" transform="translate(310.9 224.9) scale(0.85 1)">9</text>
<text class="sup" transform="translate(314.6 226.9) scale(1.35 1)">/</text>
<text class="pl" x="322.2" y="226.6">L</text>
<path d="M347.5 278.8 L347.5 276.5 L348.4 274.5 L350.5 272.3 L352.7 269.3 L355.3 265.8 L357 262.4 L360.5 257.2 L362.2 253.8 L364.3 245.1 L366 236.4 L367.7 227.8 L368.5 225.3 L369.1 224.3 L369.8 225.8 L370.5 227.8 L371.7 236.4 L372.9 245.1 L374 253.8 L375.2 262.4 L376.4 271 L377.8 274.3 L379.5 276.2 L381.5 278.5 L381.5 278.8 Z" fill="#a9a9a9"/>
<path d="M348.3 278.9 L348.4 274.6 L351 265.9 L353.5 253.9 L356.2 241.9 L358.7 232.2 L360.3 228.4 L361.3 226.9 L362.5 229.4 L363.9 233.1 L365.7 245.2 L367.4 259 L369.1 271.1 L370.9 277 L374.5 277.9 L387.5 278.1 L420.5 278.4" fill="none" stroke="#000" stroke-width="1.4" stroke-dasharray="2.8 1.5" stroke-linejoin="round"/>
<path d="M347 215.3H422.8M347 278.8H422.8" fill="none" stroke="#000" stroke-width="1.25"/>
<path d="M347.5 215.3V278.8M422.3 215.3V278.8" fill="none" stroke="#222" stroke-width="1"/>
<path d="M347.5 276.82h-2.0 M347.5 274.83h-2.0 M347.5 272.85h-2.0 M347.5 270.86h-2.0 M347.5 268.88h-2.0 M347.5 266.89h-2.0 M347.5 264.91h-2.0 M347.5 262.93h-2.8 M347.5 260.94h-2.0 M347.5 258.96h-2.0 M347.5 256.97h-2.0 M347.5 254.99h-2.0 M347.5 253h-2.0 M347.5 251.02h-2.0 M347.5 249.03h-2.0 M347.5 247.05h-2.8 M347.5 245.07h-2.0 M347.5 243.08h-2.0 M347.5 241.1h-2.0 M347.5 239.11h-2.0 M347.5 237.13h-2.0 M347.5 235.14h-2.0 M347.5 233.16h-2.0 M347.5 231.18h-2.8 M347.5 229.19h-2.0 M347.5 227.21h-2.0 M347.5 225.22h-2.0 M347.5 223.24h-2.0 M347.5 221.25h-2.0 M347.5 219.27h-2.0 M347.5 217.28h-2.0" stroke="#000" stroke-width="1.3" fill="none"/>
<path d="M354.76 278.8v2.0 M359.01 278.8v2.0 M362.03 278.8v2.0 M364.37 278.8v2.0 M366.28 278.8v2.0 M367.9 278.8v2.0 M369.29 278.8v2.0 M370.53 278.8v2.0 M371.63 278.8v3.0 M378.9 278.8v2.0 M383.15 278.8v2.0 M386.16 278.8v2.0 M388.5 278.8v2.0 M390.41 278.8v2.0 M392.03 278.8v2.0 M393.43 278.8v2.0 M394.66 278.8v2.0 M395.77 278.8v3.0 M403.03 278.8v2.0 M407.28 278.8v2.0 M410.3 278.8v2.0 M412.64 278.8v2.0 M414.55 278.8v2.0 M416.16 278.8v2.0 M417.56 278.8v2.0 M418.8 278.8v2.0 M419.9 278.8v3.0" stroke="#000" stroke-width="1.0" fill="none"/>
<text class="tk" transform="translate(371.83 291.5) scale(0.56 1)" style="text-anchor:end">10</text>
<text class="tk" transform="translate(371.93 287.3) scale(0.7 1)" style="text-anchor:start;font-size:7.4px">1</text>
<text class="tk" transform="translate(395.97 291.5) scale(0.56 1)" style="text-anchor:end">10</text>
<text class="tk" transform="translate(396.07 287.3) scale(0.7 1)" style="text-anchor:start;font-size:7.4px">2</text>
<text class="tk" transform="translate(420.1 291.5) scale(0.56 1)" style="text-anchor:end">10</text>
<text class="tk" transform="translate(420.2 287.3) scale(0.7 1)" style="text-anchor:start;font-size:7.4px">3</text>
<text class="day" x="387.9" y="209.9">day 23</text>
<text class="ann" x="405.5" y="226.6">0.2 x 10</text>
<text class="sup" transform="translate(405.6 224.9) scale(0.85 1)">9</text>
<text class="sup" transform="translate(409.3 226.9) scale(1.35 1)">/</text>
<text class="pl" x="416.9" y="226.6">L</text>
<path d="M444 278.8 L444 278.8 L444.2 273.8 L444.5 272.1 L445.3 269.3 L446.3 262.3 L447 255.3 L448.1 248.3 L449.4 241.3 L450.9 234.3 L452.9 227.3 L454.7 224.3 L456.1 223.8 L457.5 225.3 L458.2 227.3 L459.3 234.3 L460.6 241.3 L461.4 248.3 L462.4 255.3 L463.1 262.3 L464.1 269.3 L465.5 274.9 L468 278.5 L468 278.8 Z" fill="#a9a9a9"/>
<path d="M444.6 278.9 L444.8 273.9 L445.6 266.6 L447.7 255.4 L449.5 244.2 L451.2 234.4 L453.3 226 L455.4 221.9 L456.5 217.6 L457.2 220.9 L457.9 224.6 L459.3 234.4 L460.7 242.9 L461.7 251.2 L462.8 261 L464.1 269.4 L465.9 276.4 L470.8 277.9 L483.8 278.1 L515.8 278.4" fill="none" stroke="#000" stroke-width="1.4" stroke-dasharray="2.8 1.5" stroke-linejoin="round"/>
<path d="M443.3 215.3H518.5M443.3 278.8H518.5" fill="none" stroke="#000" stroke-width="1.25"/>
<path d="M443.8 215.3V278.8M518 215.3V278.8" fill="none" stroke="#222" stroke-width="1"/>
<path d="M443.8 276.82h-2.0 M443.8 274.83h-2.0 M443.8 272.85h-2.0 M443.8 270.86h-2.0 M443.8 268.88h-2.0 M443.8 266.89h-2.0 M443.8 264.91h-2.0 M443.8 262.93h-2.8 M443.8 260.94h-2.0 M443.8 258.96h-2.0 M443.8 256.97h-2.0 M443.8 254.99h-2.0 M443.8 253h-2.0 M443.8 251.02h-2.0 M443.8 249.03h-2.0 M443.8 247.05h-2.8 M443.8 245.07h-2.0 M443.8 243.08h-2.0 M443.8 241.1h-2.0 M443.8 239.11h-2.0 M443.8 237.13h-2.0 M443.8 235.14h-2.0 M443.8 233.16h-2.0 M443.8 231.18h-2.8 M443.8 229.19h-2.0 M443.8 227.21h-2.0 M443.8 225.22h-2.0 M443.8 223.24h-2.0 M443.8 221.25h-2.0 M443.8 219.27h-2.0 M443.8 217.28h-2.0" stroke="#000" stroke-width="1.3" fill="none"/>
<path d="M451 278.8v2.0 M455.22 278.8v2.0 M458.21 278.8v2.0 M460.53 278.8v2.0 M462.42 278.8v2.0 M464.03 278.8v2.0 M465.41 278.8v2.0 M466.64 278.8v2.0 M467.73 278.8v3.0 M474.94 278.8v2.0 M479.15 278.8v2.0 M482.14 278.8v2.0 M484.46 278.8v2.0 M486.36 278.8v2.0 M487.96 278.8v2.0 M489.35 278.8v2.0 M490.57 278.8v2.0 M491.67 278.8v3.0 M498.87 278.8v2.0 M503.09 278.8v2.0 M506.08 278.8v2.0 M508.4 278.8v2.0 M510.29 278.8v2.0 M511.89 278.8v2.0 M513.28 278.8v2.0 M514.5 278.8v2.0 M515.6 278.8v3.0" stroke="#000" stroke-width="1.0" fill="none"/>
<text class="tk" transform="translate(467.93 291.5) scale(0.56 1)" style="text-anchor:end">10</text>
<text class="tk" transform="translate(468.03 287.3) scale(0.7 1)" style="text-anchor:start;font-size:7.4px">1</text>
<text class="tk" transform="translate(491.87 291.5) scale(0.56 1)" style="text-anchor:end">10</text>
<text class="tk" transform="translate(491.97 287.3) scale(0.7 1)" style="text-anchor:start;font-size:7.4px">2</text>
<text class="tk" transform="translate(515.8 291.5) scale(0.56 1)" style="text-anchor:end">10</text>
<text class="tk" transform="translate(515.9 287.3) scale(0.7 1)" style="text-anchor:start;font-size:7.4px">3</text>
<text class="day" x="483.3" y="209.9">day 26</text>
<text class="ann" x="502.8" y="226.6">0.9 x 10</text>
<text class="sup" transform="translate(502.9 224.9) scale(0.85 1)">9</text>
<text class="sup" transform="translate(506.6 226.9) scale(1.35 1)">/</text>
<text class="pl" x="514.2" y="226.6">L</text>
<path d="M66.2 311.3H237.6M333.5 311.3H516.8" stroke="#000" stroke-width="1.1" fill="none"/>
<text x="289.1" y="317.5" style="font-size:20.1px;text-anchor:middle;stroke:#000;stroke-width:0.3px">FL-FITC</text>
<path d="M57.2 382.7H62.6V486.3H57.2M57.6 418.4h5M57.6 454.1h5" stroke="#000" stroke-width="1.1" fill="none"/>
<text class="yl" x="32.9" y="386">3000</text>
<text class="yl" x="32.9" y="421.7">2000</text>
<text class="yl" x="32.9" y="457.4">1000</text>
<text class="yl" x="32.9" y="489.6">100</text>
<text transform="translate(21.2 426.7) rotate(-90)" style="font-size:11.6px;text-anchor:middle;stroke:#000;stroke-width:0.2px">sFL, pg/ml</text>
<path d="M72.3 491.5H511.8" stroke="#000" stroke-width="1.2" fill="none"/>
<rect x="82.2" y="489.3" width="40" height="2.2" fill="#000"/>
<rect x="178.6" y="476" width="38.7" height="15.5" fill="#000"/>
<rect x="272.9" y="408.3" width="38.4" height="83.2" fill="#000"/>
<rect x="368" y="462.5" width="38.5" height="29" fill="#000"/>
<rect x="460" y="489.3" width="40" height="2.2" fill="#000"/>
<path d="M195.3 465.2h6M198.3 465.2V476" stroke="#000" stroke-width="1" fill="none"/>
<path d="M198.3 476V483.2M195.3 483.2h6" stroke="#fff" stroke-width="1" fill="none"/>
<path d="M289 403.2h6M292 403.2V408.3" stroke="#000" stroke-width="1" fill="none"/>
<path d="M292 408.3V415.5M289 415.5h6" stroke="#fff" stroke-width="1" fill="none"/>
<path d="M384.2 452.5h6M387.2 452.5V462.5" stroke="#000" stroke-width="1" fill="none"/>
<path d="M387.2 462.5V483.5M384.2 483.5h6" stroke="#fff" stroke-width="1" fill="none"/>
<text x="102" y="489" style="font-size:16px;font-weight:bold;text-anchor:middle">*</text>
<text x="478.8" y="489" style="font-size:16px;font-weight:bold;text-anchor:middle">*</text>
</svg></body></html>
